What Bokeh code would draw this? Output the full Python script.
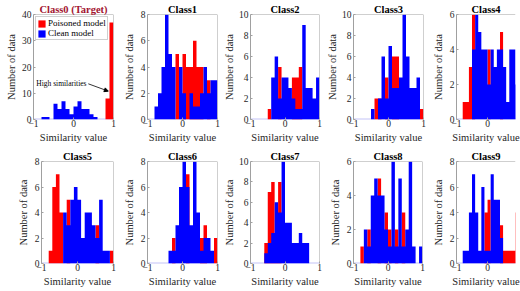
from bokeh.plotting import figure
from bokeh.layouts import column, row
from bokeh.models import FixedTicker, Span, Label, Arrow, NormalHead, Range1d, Title
from bokeh.embed import file_html
from bokeh.resources import INLINE

# ---------------- data ----------------
bin_edges = [-1.0, -0.9, -0.8, -0.7, -0.6, -0.5, -0.4, -0.3, -0.2, -0.1, 0.0,
             0.1, 0.2, 0.3, 0.4, 0.5, 0.6, 0.7, 0.8, 0.9, 1.0]
class_titles = ["Class0 (Target)", "Class1", "Class2", "Class3", "Class4",
                "Class5", "Class6", "Class7", "Class8", "Class9"]
y_max = [40, 8, 10, 10, 6, 8, 8, 10, 6, 8]
y_ticks = [[0, 10, 20, 30, 40], [0, 2, 4, 6, 8], [0, 2, 4, 6, 8, 10],
           [0, 2, 4, 6, 8, 10], [0, 2, 4, 6], [0, 2, 4, 6, 8], [0, 2, 4, 6, 8],
           [0, 2, 4, 6, 8, 10], [0, 2, 4, 6], [0, 2, 4, 6, 8]]
x_ticks = [-1, 0, 1]
x_label = "Similarity value"
y_label = "Number of data"

poisoned_0 = [0, 0, 0, 0, 0, 0, 0, 0, 0, 0, 0, 0, 0, 0, 0, 0, 0, 0, 8, 37]
clean_0 = [0, 0, 1, 1, 0, 6, 4, 7, 4, 2, 5, 7, 4, 4, 2, 1, 0, 0, 0, 0]
poisoned_1 = [0, 0, 0, 0, 0, 0, 0, 0, 5, 0, 5, 4, 4, 6, 4, 4, 0, 3, 0, 0]
clean_1 = [0, 0, 1, 2, 4, 8, 5, 4, 0, 4, 2, 0, 2, 1, 1, 2, 4, 2, 3, 3]
poisoned_2 = [0, 0, 0, 0, 0, 1, 0, 0, 5, 0, 0, 0, 4, 4, 5, 0, 0, 0, 0, 0]
clean_2 = [0, 0, 0, 0, 0, 0, 4, 6, 2, 4, 4, 3, 2, 1, 1, 9, 3, 3, 2, 4]
poisoned_3 = [0, 0, 0, 0, 0, 0, 2, 2, 0, 4, 0, 6, 6, 0, 0, 0, 0, 0, 0, 1]
clean_3 = [0, 0, 0, 0, 0, 1, 0, 2, 6, 2, 7, 3, 3, 4, 10, 6, 3, 3, 4, 0]
poisoned_4 = [0, 0, 1, 1, 3, 6, 0, 0, 0, 0, 4, 0, 0, 0, 5, 0, 0, 0, 0, 0]
clean_4 = [0, 0, 0, 0, 0, 4, 6, 5, 4, 4, 2, 4, 3, 4, 4, 3, 1, 4, 4, 2]
poisoned_5 = [0, 0, 1, 6, 7, 4, 0, 5, 0, 0, 0, 0, 0, 0, 0, 3, 0, 0, 0, 1]
clean_5 = [0, 0, 0, 0, 0, 0, 4, 3, 5, 6, 5, 2, 4, 4, 3, 2, 5, 1, 1, 0]
poisoned_6 = [0, 0, 0, 0, 0, 0, 0, 2, 0, 0, 0, 7, 0, 0, 0, 2, 3, 0, 0, 2]
clean_6 = [0, 0, 0, 0, 0, 0, 1, 1, 3, 6, 8, 6, 3, 8, 4, 1, 2, 2, 1, 0]
poisoned_7 = [0, 0, 0, 0, 2, 7, 8, 3, 8, 0, 0, 0, 0, 0, 0, 0, 0, 0, 0, 0]
clean_7 = [0, 0, 0, 0, 1, 2, 3, 6, 5, 10, 4, 4, 2, 2, 3, 2, 2, 0, 0, 0]
poisoned_8 = [0, 0, 1, 0, 2, 0, 0, 5, 0, 3, 2, 0, 2, 0, 3, 0, 0, 0, 0, 0]
clean_8 = [0, 0, 0, 2, 1, 4, 5, 4, 4, 2, 1, 6, 1, 5, 1, 2, 6, 1, 0, 1]
poisoned_9 = [0, 0, 0, 0, 0, 0, 0, 0, 0, 4, 5, 0, 0, 0, 3, 1, 1, 1, 1, 4]
clean_9 = [0, 0, 1, 1, 4, 7, 4, 1, 6, 1, 1, 7, 5, 5, 2, 0, 0, 0, 0, 0]

poisoned = [poisoned_0, poisoned_1, poisoned_2, poisoned_3, poisoned_4,
            poisoned_5, poisoned_6, poisoned_7, poisoned_8, poisoned_9]
clean = [clean_0, clean_1, clean_2, clean_3, clean_4,
         clean_5, clean_6, clean_7, clean_8, clean_9]

# ---------------- style ----------------
FONT = "Liberation Serif"
RED = "#ff0000"
BLUE = "#0000ff"
BASE = "#c4c4f7"
GRAY = "#a0a0a0"
TEXT = "#262626"
TITLE0 = "#a2142f"


def panel(i, width, height, b_left, b_right, x_end, right_edge, ylab_standoff):
    p = figure(width=width, height=height, output_backend="svg", toolbar_location=None,
               x_range=Range1d(-1, x_end), y_range=Range1d(0, y_max[i]),
               min_border_left=b_left, min_border_right=b_right,
               min_border_top=14, min_border_bottom=28, title=class_titles[i],
               background_fill_color="white", border_fill_color="white")
    p.outline_line_color = None
    p.xgrid.visible = False
    p.ygrid.visible = False
    t = p.title
    t.text_font = FONT
    t.text_font_size = "10.5px"
    t.text_font_style = "bold"
    t.align = "center"
    t.standoff = 0
    t.text_color = TITLE0 if i == 0 else "black"

    p.line(x=[bin_edges[0], bin_edges[-1]], y=[0, 0], line_color=BASE, line_width=2)
    kw_r = dict(legend_label="Poisoned model") if i == 0 else {}
    kw_b = dict(legend_label="Clean model") if i == 0 else {}
    p.varea_step(x=bin_edges, y1=[0] * len(bin_edges),
                 y2=poisoned[i] + [poisoned[i][-1]], step_mode="after",
                 fill_color=RED, **kw_r)
    p.varea_step(x=bin_edges, y1=[0] * len(bin_edges),
                 y2=clean[i] + [clean[i][-1]], step_mode="after",
                 fill_color=BLUE, **kw_b)

    for ax in (p.xaxis[0], p.yaxis[0]):
        ax.major_label_text_font = FONT
        ax.major_label_text_font_size = "9.5px"
        ax.major_label_text_color = TEXT
        ax.major_tick_in = 2
        ax.major_tick_out = 0
        ax.major_tick_line_color = GRAY
        ax.minor_tick_line_color = None
    p.xaxis.major_label_standoff = 0
    p.yaxis.major_label_standoff = 2
    p.xaxis.axis_line_color = None
    p.yaxis.axis_line_color = GRAY
    p.xaxis.ticker = FixedTicker(ticks=x_ticks)
    p.yaxis.ticker = FixedTicker(ticks=y_ticks[i])

    xl = Title(text=x_label, align="center", text_font=FONT, text_font_size="10.5px",
               text_font_style="normal", text_color=TEXT, standoff=0)
    p.add_layout(xl, "below")
    yl = Title(text=y_label, align="center", text_font=FONT, text_font_size="10.5px",
               text_font_style="normal", text_color=TEXT, standoff=ylab_standoff)
    p.add_layout(yl, "left")

    p.add_layout(Span(location=y_max[i], dimension="width", line_color=GRAY, line_width=1))
    if right_edge:
        p.add_layout(Span(location=1, dimension="height", line_color=GRAY, line_width=1))

    if i == 0:
        lg = p.legend[0]
        lg.location = "top_left"
        lg.margin = 2
        lg.padding = 1
        lg.spacing = 0
        lg.label_text_font = FONT
        lg.label_text_font_size = "9px"
        lg.label_text_color = "black"
        lg.glyph_width = 9
        lg.glyph_height = 9
        lg.label_height = 10
        lg.label_width = 10
        lg.label_standoff = 2
        lg.border_line_color = GRAY
        lg.background_fill_alpha = 1.0
        p.add_layout(Label(x=-0.93, y=13.6, text="High similarities",
                           text_font=FONT, text_font_size="7.5px",
                           text_baseline="middle", text_color="black"))
        p.add_layout(Arrow(end=NormalHead(size=4, fill_color="black", line_color="black"),
                           x_start=0.37, y_start=13.6, x_end=0.87, y_end=10.8,
                           line_color="black", line_width=0.8))
    return p


# (width, left border, right border, x range end, draw right edge, ylabel standoff)
top_geom = [(118, 33, 5, 1, True, 4), (103, 26, 4, 1, True, 6), (103, 26, 5, 1, True, 1),
            (103, 26, 4, 1, True, 1), (93, 26, 5, 0.9, False, 6)]
bot_geom = [(118, 41, 5, 1, True, 6), (103, 26, 4, 1, True, 6), (103, 26, 5, 1, True, 1),
            (103, 26, 5, 1, True, 6), (93, 26, 5, 0.9, False, 6)]

top = [panel(k, g[0], 147, g[1], g[2], g[3], g[4], g[5]) for k, g in enumerate(top_geom)]
bottom = [panel(k + 5, g[0], 144, g[1], g[2], g[3], g[4], g[5]) for k, g in enumerate(bot_geom)]

layout = column(row(*top, spacing=0), row(*bottom, spacing=0), spacing=0)

open("out.html", "w").write(file_html(layout, INLINE, title="Similarity histograms"))
